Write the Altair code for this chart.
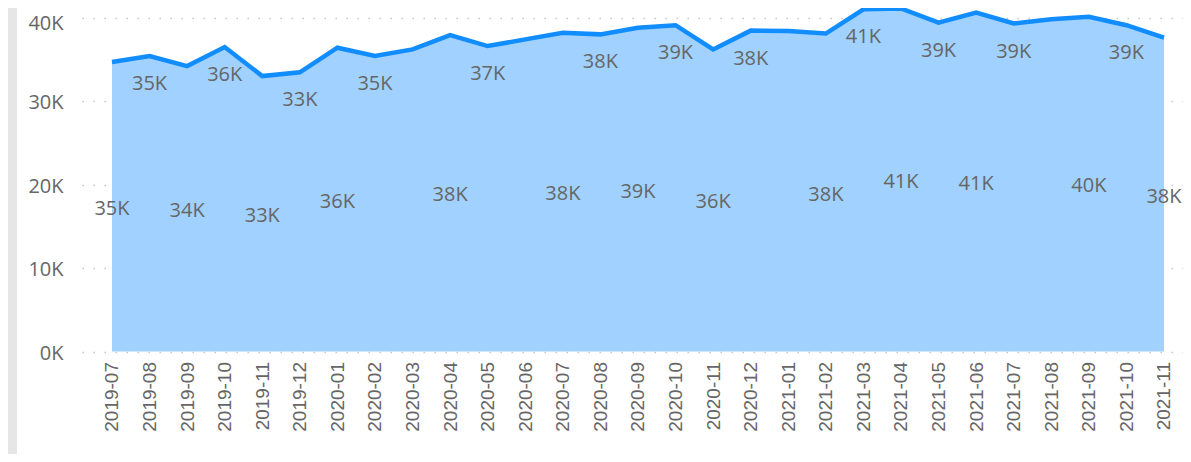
import altair as alt
import pandas as pd

months = ["2019-07", "2019-08", "2019-09", "2019-10", "2019-11", "2019-12",
          "2020-01", "2020-02", "2020-03", "2020-04", "2020-05", "2020-06",
          "2020-07", "2020-08", "2020-09", "2020-10", "2020-11", "2020-12",
          "2021-01", "2021-02", "2021-03", "2021-04", "2021-05", "2021-06",
          "2021-07", "2021-08", "2021-09", "2021-10", "2021-11"]
values = [34700, 35400, 34200, 36480, 33000, 33450,
          36400, 35400, 36200, 37900, 36600, 37400,
          38200, 38000, 38800, 39100, 36200, 38450,
          38400, 38100, 41000, 41100, 39400, 40600,
          39300, 39800, 40100, 39100, 37600]
label_kind = ["mid", "line", "mid", "line", "mid", "line", "mid", "line", "",
              "mid", "line", "", "mid", "line", "mid", "line", "mid", "line", "",
              "mid", "line", "mid", "line", "mid", "line", "", "mid", "line", "mid"]
y_ticks = [0, 10000, 20000, 30000, 40000]

df = pd.DataFrame({
    "month": months,
    "value": values,
    "kind": label_kind,
    "label": [f"{round(v / 1000)}K" for v in values],
})

FONT = "Open Sans"
GRAY = "#666666"

x_enc = alt.X("month:O", sort=months,
              scale=alt.Scale(type="point", padding=0.652, align=0.612),
              axis=alt.Axis(title=None, labelAngle=-90, labelFont="Liberation Sans",
                            labelFontSize=19, labelColor=GRAY, labelPadding=10,
                            ticks=False, domain=False, grid=False,
                            labelBaseline="middle", labelAlign="right"))
y_scale = alt.Scale(domain=[0, 41160], nice=False, zero=True)

base = alt.Chart(df)

area = base.mark_area(color="#a0d1ff", opacity=1).encode(
    x=x_enc,
    y=alt.Y("value:Q", scale=y_scale,
            axis=alt.Axis(title=None, values=y_ticks,
                          labelExpr="datum.value / 1000 + 'K'",
                          labelFont=FONT, labelFontSize=20, labelColor=GRAY,
                          labelPadding=19,
                          labelOffset={"condition": {"test": "datum.value >= 40000", "value": 5.5},
                                       "value": 1.5},
                          ticks=False, domain=False,
                          grid=True, gridColor="#c8c6c4", gridDash=[1.5, 9.5],
                          gridWidth=1.5)),
)

line = base.mark_line(color="#118dff", strokeWidth=4.5).encode(
    x=alt.X("month:O", sort=months), y=alt.Y("value:Q", scale=y_scale))

mid_labels = base.transform_filter(alt.datum.kind == "mid").transform_calculate(
    half="datum.value / 2").mark_text(
    font=FONT, fontSize=20, color=GRAY, baseline="middle", align="center", dy=2
).encode(x=alt.X("month:O", sort=months), y=alt.Y("half:Q", scale=y_scale),
         text="label:N")

line_labels = base.transform_filter(alt.datum.kind == "line").mark_text(
    font=FONT, fontSize=20, color=GRAY, baseline="middle", align="center", dy=28
).encode(x=alt.X("month:O", sort=months), y=alt.Y("value:Q", scale=y_scale),
         text="label:N")

band = alt.Chart(pd.DataFrame({"a": [0]})).mark_rect(color="#e6e6e6").encode(
    x=alt.value(-74), x2=alt.value(-65), y=alt.value(-10), y2=alt.value(470))

chart = alt.layer(band, area, line, mid_labels, line_labels).properties(
    width=1101, height=343.5,
    autosize=alt.AutoSizeParams(type="none"),
    padding={"left": 74, "top": 0, "right": 0, "bottom": 102},
    background="white",
).configure_view(stroke=None)

chart.save("out.html", embed_options={"renderer": "svg", "actions": False})
